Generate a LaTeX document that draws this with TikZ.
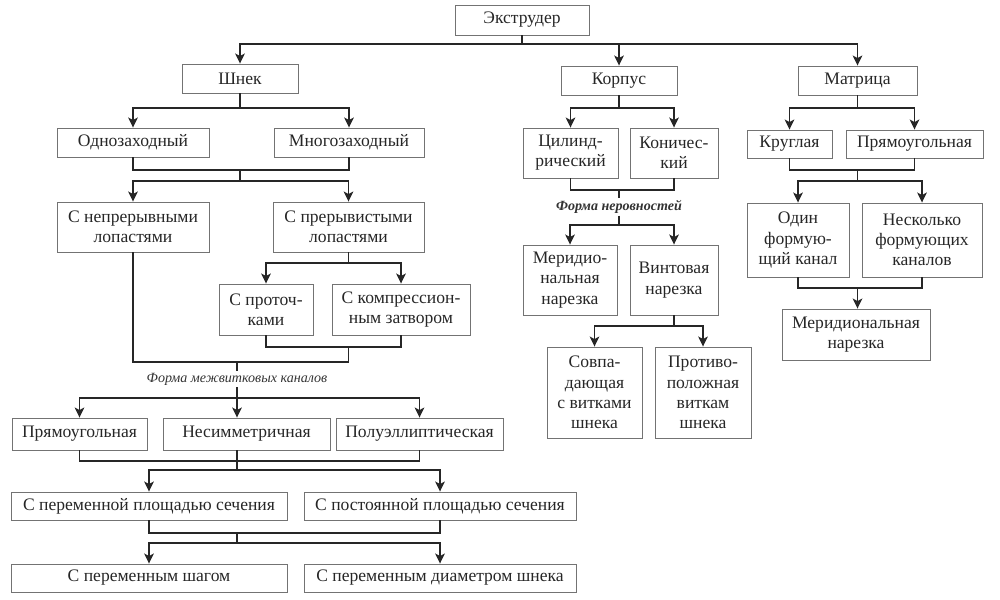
\documentclass[tikz,border=0pt]{standalone}
\usepackage{fontspec}
\setmainfont{Liberation Serif}
\usetikzlibrary{arrows.meta}
\tikzset{
  box/.style={draw=black!55, line width=0.5pt, inner sep=1pt, align=center, text=black!85,
              font=\fontsize{10}{11.5}\selectfont},
  conn/.style={draw=black!85, line width=1.1pt},
  arr/.style={conn, -{Stealth[length=2mm,width=1.9mm,inset=0.5mm]}},
  lbl/.style={inner sep=1pt, text=black!80, font=\fontsize{8}{9}\selectfont\itshape}
}
\newcommand\BX[6]{\node[box, minimum width={(#4-#2)*0.2mm}, minimum height={(#5-#3)*0.2mm}] (#1) at ({(#2+#4)/2},{(#3+#5)/2}) {#6};}
\begin{document}
\begin{tikzpicture}[x=0.2mm, y=-0.2mm]
\useasboundingbox (0,0) rectangle (1000,599);
% ---- nodes
\BX{ext}{455}{5}{589}{35}{Экструдер}
\BX{shnek}{182}{64}{298}{93}{Шнек}
\BX{korp}{561}{66}{677}{95}{Корпус}
\BX{matr}{798}{66}{917}{95}{Матрица}
\BX{odn}{57}{128}{209}{157}{Однозаходный}
\BX{mnog}{274}{128}{424}{157}{Многозаходный}
\BX{nepr}{57}{202}{209}{252}{С непрерывными\\лопастями}
\BX{prer}{273}{202}{424}{252}{С прерывистыми\\лопастями}
\BX{prot}{219}{284}{313}{335}{С проточ-\\ками}
\BX{komp}{332}{284}{470}{335}{С компрессион-\\ным затвором}
\node[lbl] (fmk) at (237,379) {Форма межвитковых каналов};
\BX{pryam}{12}{418}{147}{450}{Прямоугольная}
\BX{nesim}{163}{418}{330}{450}{Несимметричная}
\BX{polu}{336}{418}{503}{450}{Полуэллиптическая}
\BX{perpl}{11}{492}{287}{520}{С переменной площадью сечения}
\BX{postpl}{304}{492}{576}{520}{С постоянной площадью сечения}
\BX{pershag}{11}{564}{287}{592}{С переменным шагом}
\BX{perdiam}{304}{564}{576}{592}{С переменным диаметром шнека}
\BX{cyl}{523}{128}{618}{178}{Цилинд-\\рический}
\BX{kon}{630}{128}{718}{178}{Коничес-\\кий}
\node[lbl, font=\fontsize{8}{9}\selectfont\itshape\bfseries] (fn) at (619,207) {Форма неровностей};
\BX{merid}{523}{245}{617}{315}{Меридио-\\нальная\\нарезка}
\BX{vint}{630}{245}{718}{315}{Винтовая\\нарезка}
\BX{sovp}{547}{347}{642}{438}{Совпа-\\дающая\\с витками\\шнека}
\BX{protiv}{655}{347}{751}{438}{Противо-\\положная\\виткам\\шнека}
\BX{krug}{747}{130}{832}{158}{Круглая}
\BX{pryamm}{846}{130}{983}{158}{Прямоугольная}
\BX{odin}{747}{203}{849}{277}{Один\\формую-\\щий канал}
\BX{neskol}{862}{203}{982}{277}{Несколько\\формующих\\каналов}
\BX{meridm}{782}{309}{930}{360}{Меридиональная\\нарезка}
% ---- junction coordinates
\coordinate (t0) at (522,44);
\coordinate (s1) at (240,108);
\coordinate (s2) at (240,170);
\coordinate (s3) at (240,181);
\coordinate (p1) at (348.5,263);
\coordinate (p2) at (348.5,347);
\coordinate (p3) at (348.5,362);
\coordinate (f1) at (237,362);
\coordinate (f2) at (237,398);
\coordinate (r1) at (237,461);
\coordinate (r2) at (237,470);
\coordinate (r3) at (237,533);
\coordinate (r4) at (237,543);
\coordinate (k1) at (619,108);
\coordinate (k2) at (619,190);
\coordinate (k3) at (619,225);
\coordinate (v1) at (674,326);
\coordinate (m1) at (857.5,108);
\coordinate (m2) at (857.5,170);
\coordinate (m3) at (857.5,181);
\coordinate (m4) at (857.5,288);
% ---- connectors
\draw[conn] (ext.south) -- (t0);
\draw[arr] (t0) -| (shnek.north);
\draw[arr] (t0) -| (korp.north);
\draw[arr] (t0) -| (matr.north);
% Shnek
\draw[conn] (shnek.south) -- (s1);
\draw[arr] (s1) -| (odn.north);
\draw[arr] (s1) -| (mnog.north);
\draw[conn] (odn.south) |- (s2) -| (mnog.south);
\draw[conn] (s2) -- (s3);
\draw[arr] (s3) -| (nepr.north);
\draw[arr] (s3) -| (prer.north);
\draw[conn] (prer.south) -- (p1);
\draw[arr] (p1) -| (prot.north);
\draw[arr] (p1) -| (komp.north);
\draw[conn] (prot.south) |- (p2) -| (komp.south);
\draw[conn] (p2) -- (p3);
\draw[conn] (nepr.south) |- (p3);
\draw[conn] (f1) -- (fmk.north);
\draw[conn] (fmk.south) -- (f2);
\draw[arr] (f2) -| (pryam.north);
\draw[arr] (f2) -| (polu.north);
\draw[arr] (f2) -- (f2 |- nesim.north);
\draw[conn] (pryam.south) |- (r1) -| (polu.south);
\draw[conn] (r1 |- nesim.south) -- (r2);
\draw[arr] (r2) -| (perpl.north);
\draw[arr] (r2) -| (postpl.north);
\draw[conn] (perpl.south) |- (r3) -| (postpl.south);
\draw[conn] (r3) -- (r4);
\draw[arr] (r4) -| (pershag.north);
\draw[arr] (r4) -| (perdiam.north);
% Korpus
\draw[conn] (korp.south) -- (k1);
\draw[arr] (k1) -| (cyl.north);
\draw[arr] (k1) -| (kon.north);
\draw[conn] (cyl.south) |- (k2) -| (kon.south);
\draw[conn] (k2) -- (fn.north);
\draw[conn] (fn.south) -- (k3);
\draw[arr] (k3) -| (merid.north);
\draw[arr] (k3) -| (vint.north);
\draw[conn] (vint.south) -- (v1);
\draw[arr] (v1) -| (sovp.north);
\draw[arr] (v1) -| (protiv.north);
% Matrica
\draw[conn] (matr.south) -- (m1);
\draw[arr] (m1) -| (krug.north);
\draw[arr] (m1) -| (pryamm.north);
\draw[conn] (krug.south) |- (m2) -| (pryamm.south);
\draw[conn] (m2) -- (m3);
\draw[arr] (m3) -| (odin.north);
\draw[arr] (m3) -| (neskol.north);
\draw[conn] (odin.south) |- (m4) -| (neskol.south);
\draw[arr] (m4) -- (m4 |- meridm.north);
\end{tikzpicture}
\end{document}
